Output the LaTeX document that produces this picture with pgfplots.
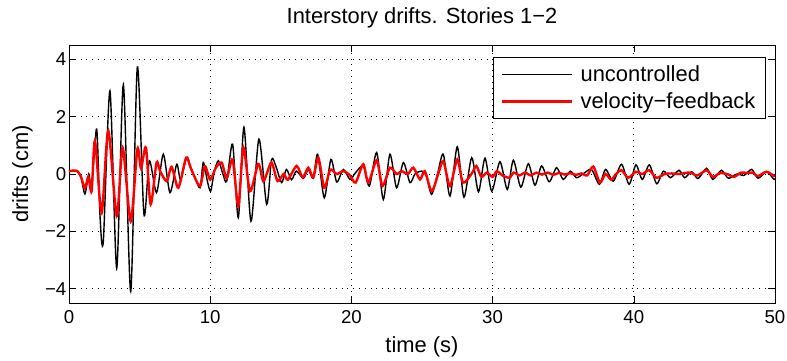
\documentclass[border=0pt]{standalone}
\usepackage{pgfplots}
\pgfplotsset{compat=1.18}
\usepackage{fontspec}
\setmainfont{Liberation Sans}
\begin{document}
\begin{tikzpicture}
\useasboundingbox (-69bp,-58bp) rectangle (718bp,303bp);
\begin{axis}[
  at={(0,0)}, anchor=south west, scale only axis,
  width=706bp, height=258bp,
  xmin=0, xmax=50, ymin=-4.5, ymax=4.5,
  xtick={0,10,20,30,40,50}, xticklabels={0,10,20,30,40,50},
  ytick={-4,-2,0,2,4}, yticklabels={−4,−2,0,2,4},
  tick align=inside, major tick length=7bp, tick style={black, line width=0.6bp},
  axis line style={black, line width=0.8bp},
  grid=major, major grid style={black, line width=0.7bp, dash pattern=on 0.8bp off 5bp},
  ticklabel style={font=\fontsize{18.7}{20}\selectfont},
  xticklabel style={anchor=base, yshift=-20bp},
  yticklabel style={anchor=east, inner xsep=2.5bp},
  title={Interstory drifts. Stories 1−2},
  title style={at={(axis description cs:0.5,1.062)}, anchor=base, font=\fontsize{22}{24}\selectfont},
  xlabel={time (s)},
  xlabel style={at={(axis description cs:0.5,-0.19)}, anchor=base, font=\fontsize{22}{24}\selectfont},
  ylabel={drifts (cm)},
  ylabel style={at={(axis description cs:-0.058,0.5)}, anchor=base, font=\fontsize{22}{24}\selectfont},
  legend style={at={(axis description cs:0.987,0.953)}, anchor=north east, draw=black, line width=0.8bp,
    font=\fontsize{22}{24}\selectfont, inner xsep=8bp, inner ysep=6bp, row sep=6bp, column sep=5bp},
  legend cell align=left,
  legend image code/.code={\draw[#1] (0bp,0bp) -- (70bp,0bp);},
]
\addplot[black, line width=1.4bp, smooth, tension=0.45] coordinates {
(0,0.1) (0.3,0.12) (0.6,0.08) (0.85,-0.1) (1.13,-0.7) (1.4,0.0) (1.6,-0.5) (1.96,1.57)
(2.2,-1.5) (2.43,-2.35) (2.9,2.9) (3.38,-3.29) (3.85,3.11) (4.37,-4.1) (4.84,3.73)
(5.31,-1.41) (5.69,0.46) (6.2,-0.65) (6.68,0.69) (7.15,-0.65) (7.63,0.34) (7.9,-0.2)
(8.33,0.57) (8.57,0.3) (8.9,-0.1) (9.28,-0.48) (9.51,0.4) (9.8,-0.25) (10.03,-0.6)
(10.3,0.1) (10.58,0.46) (10.9,0) (11.17,-0.25) (11.59,1.04) (11.99,-1.53) (12.39,1.63)
(12.89,-1.65) (13.45,1.22) (14.0,-1.06) (14.35,0.51) (14.7,0.2) (15.06,-0.3) (15.4,0.16)
(15.76,-0.2) (16.1,0.1) (16.6,-0.15) (16.95,0.15) (17.3,-0.15) (17.61,0.69) (18.08,-0.83)
(18.55,0.51) (18.96,-0.28) (19.43,0.16) (19.9,-0.19) (20.3,0.05) (20.84,0.28) (21.27,-0.42)
(21.79,0.75) (22.26,-0.89) (22.73,0.69) (23.2,-0.48) (23.68,0.4) (24.15,-0.3) (24.5,0)
(24.98,0.1) (25.3,-0.05) (25.68,-0.71) (26.1,0) (26.51,0.69) (26.98,-0.77) (27.5,0.95)
(27.97,-0.81) (28.52,0.57) (29.0,-0.62) (29.46,0.55) (29.94,-0.6) (30.52,0.43) (31.04,-0.54)
(31.47,0.48) (32.0,-0.46) (32.53,0.36) (33.0,-0.39) (33.47,0.28) (34.01,-0.27) (34.53,0.22)
(35.0,-0.19) (35.5,0.1) (35.94,-0.13) (36.4,0) (37.0,0.16) (37.56,-0.36) (38.0,0.16)
(38.55,-0.25) (39.13,0.34) (39.67,-0.36) (40.15,0.32) (40.6,-0.19) (41.1,0.32) (41.62,-0.34)
(42.1,0.1) (42.6,-0.13) (43.2,0.13) (43.6,-0.13) (44.1,0.08) (44.55,-0.16) (45.16,0.2)
(45.6,-0.19) (46.2,0.13) (46.7,-0.15) (47.3,0) (47.8,-0.05) (48.35,0.16) (48.8,-0.15)
(49.4,0.08) (49.93,-0.19) (50,-0.15)
};
\addlegendentry{uncontrolled}
\addplot[red, line width=2.4bp, smooth, tension=0.45] coordinates {
(0,0.1) (0.3,0.12) (0.6,0.1) (0.85,-0.1) (1.13,-0.5) (1.37,-0.1) (1.6,-0.6) (1.84,1.16)
(2.31,-1.36) (2.78,1.51) (3.38,-1.47) (3.8,0.92) (4.37,-1.65) (4.84,0.87) (5.1,0.2)
(5.45,0.92) (5.78,-1.06) (6.2,0.4) (6.45,0.1) (6.92,-0.25) (7.27,0.25) (7.74,-0.48)
(8.29,0.57) (8.57,0.28) (8.8,0) (9.28,-0.42) (9.63,0.27) (10.0,-0.2) (10.38,0.2)
(10.81,0.4) (11.17,-0.15) (11.59,0.5) (11.99,-1.12) (12.35,0.93) (12.82,-0.6) (13.4,0.35)
(13.75,-0.25) (14.0,0) (14.35,0.4) (14.77,-0.25) (15.2,0) (15.5,-0.2) (16.12,0.28)
(16.55,-0.12) (16.95,0.22) (17.3,-0.12) (17.66,0.57) (18.08,-0.48) (18.5,0.15) (18.96,0)
(19.43,0.1) (19.9,-0.05) (20.3,-0.3) (20.84,0.34) (21.2,-0.3) (21.79,0.48) (22.2,-0.42)
(22.73,0.22) (23.2,0) (23.56,0.1) (24.0,0) (24.39,0.22) (24.86,-0.19) (25.2,0.1)
(25.68,-0.6) (26.15,0) (26.51,0.45) (26.98,-0.42) (27.5,0.51) (27.9,-0.3) (28.5,0)
(28.85,0.28) (29.2,-0.1) (29.6,0.05) (30.0,-0.1) (30.3,0.1) (30.7,-0.05) (31.2,-0.13)
(31.5,0.05) (31.9,-0.05) (32.3,0.05) (32.7,-0.05) (33.1,0.05) (33.5,-0.02) (33.9,0.05)
(34.3,-0.03) (34.7,0.04) (35.1,-0.02) (35.5,0.03) (35.9,-0.03) (36.3,0.02) (36.7,-0.05)
(37.13,0.26) (37.6,-0.3) (38.0,0.0) (38.4,-0.2) (38.75,0.0) (39.13,0.13) (39.6,-0.13)
(40.15,0.08) (40.6,0) (41.1,0.13) (41.6,-0.13) (42.2,0) (42.7,0.02) (43.2,0) (43.6,0.03)
(44.0,0.05) (44.5,-0.05) (45.16,0.13) (45.6,-0.1) (46.1,0.03) (46.6,0) (47.1,-0.1)
(47.6,0.05) (48.1,0.03) (48.4,0.05) (48.8,-0.07) (49.4,0.08) (49.93,-0.07) (50,-0.05)
};
\addlegendentry{velocity−feedback}
\end{axis}
\end{tikzpicture}
\end{document}
